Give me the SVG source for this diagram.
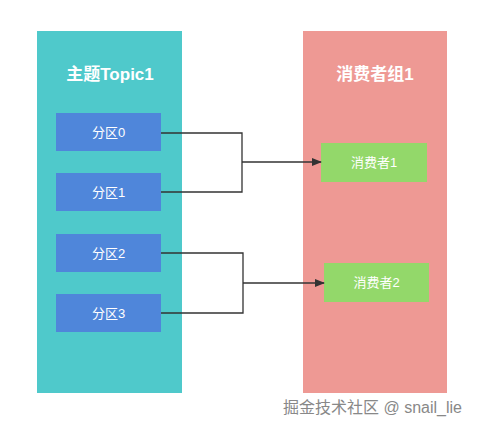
<svg xmlns="http://www.w3.org/2000/svg" width="478" height="429" viewBox="0 0 478 429">
<style>
.title{font-family:"Liberation Sans","Noto Sans CJK SC",sans-serif;font-size:17px;font-weight:bold;fill:#fff;text-anchor:middle}
.lbl{font-family:"Liberation Sans","Noto Sans CJK SC",sans-serif;font-size:13px;fill:#fff;text-anchor:middle}
.part{fill:#4F86DA}
.cons{fill:#93D86A}
.conn{fill:none;stroke:#333;stroke-width:1.3}
</style>
<defs>
<marker id="arr" markerWidth="10" markerHeight="8" refX="9" refY="4" orient="auto" markerUnits="userSpaceOnUse">
<path d="M0,0 L10,4 L0,8 Z" fill="#333"/>
</marker>
</defs>
<rect width="478" height="429" fill="#fff"/>
<g id="topic">
<rect x="37" y="31" width="145" height="362" fill="#4FC9CB"/>
<text class="title" x="110" y="80">主题Topic1</text>
</g>
<g id="group">
<rect x="303" y="31" width="144" height="362" fill="#EE9994"/>
<text class="title" x="375" y="80">消费者组1</text>
</g>
<g id="p0"><rect class="part" x="56" y="113" width="105" height="38"/><text class="lbl" x="108.5" y="137">分区0</text></g>
<g id="p1"><rect class="part" x="56" y="173" width="105" height="38"/><text class="lbl" x="108.5" y="197">分区1</text></g>
<g id="p2"><rect class="part" x="56" y="234" width="105" height="38"/><text class="lbl" x="108.5" y="258">分区2</text></g>
<g id="p3"><rect class="part" x="56" y="294" width="105" height="38"/><text class="lbl" x="108.5" y="318">分区3</text></g>
<g id="c1"><rect class="cons" x="321" y="143" width="106" height="39"/><text class="lbl" x="374" y="167">消费者1</text></g>
<g id="c2"><rect class="cons" x="324" y="263" width="105" height="39"/><text class="lbl" x="376.5" y="287">消费者2</text></g>
<g id="connectors">
<path class="conn" d="M161,133 H242 V192 H161"/>
<path class="conn" d="M242,162 H321" marker-end="url(#arr)"/>
<path class="conn" d="M161,253 H243 V313 H161"/>
<path class="conn" d="M243,283 H324" marker-end="url(#arr)"/>
</g>
<text x="283" y="413" font-family="Liberation Sans,'Noto Sans CJK SC',sans-serif" font-size="16" fill="#888">掘金技术社区 @ snail_lie</text>
</svg>
